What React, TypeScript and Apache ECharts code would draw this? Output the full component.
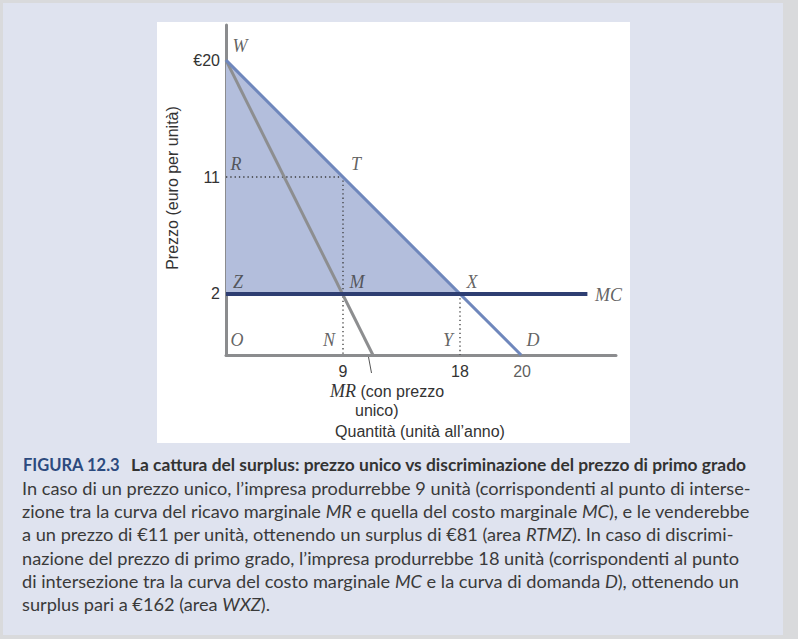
import React, { useEffect, useRef } from "react";
import * as echarts from "echarts";

// ---- data ----
const priceTicks = [20, 11, 2];
const priceTickLabels = ["€20", "11", "2"];
const quantityTicks = [9, 18];
const quantityTickLabels = ["9", "18"];
const demandInterceptLabel = "20";

const quantityMin = 0;
const quantityMax = 30;
const priceMin = -2.7;
const priceMax = 22.7;

const demand = [
  [0, 20],
  [22.7, -2.7],
];
const marginalRevenue = [
  [0, 20],
  [11.3, -2.7],
];
const marginalCost = [
  [0, 2],
  [27.8, 2],
];
const surplusArea = [
  [0, 20],
  [18, 2],
  [0, 2],
];
const singlePriceGuide = [
  [0, 11],
  [9, 11],
  [9, -2.7],
];
const discriminationGuide = [
  [18, 2],
  [18, -2.7],
];
const pointNames = ["W", "R", "T", "Z", "M", "X", "O", "N", "Y", "D", "MC"];
const pointCoords = [
  [0, 20],
  [0, 11],
  [9, 11],
  [0, 2],
  [9, 2],
  [18, 2],
  [0, -2.7],
  [9, -2.7],
  [18, -2.7],
  [22.7, -2.7],
  [27.8, 2],
];

const yAxisName = "Prezzo (euro per unità)";
const xAxisName = "Quantità (unità all’anno)";
const mrLabelLine1 = "{i|MR} (con prezzo";
const mrLabelLine2 = "unico)";

const captionNumber = "FIGURA 12.3";
const captionTitle =
  "La cattura del surplus: prezzo unico vs discriminazione del prezzo di primo grado";
const captionLines = [
  "In caso di un prezzo unico, l’impresa produrrebbe 9 unità (corrispondenti al punto di interse-",
  "zione tra la curva del ricavo marginale {i|MR} e quella del costo marginale {i|MC}), e le venderebbe",
  "a un prezzo di €11 per unità, ottenendo un surplus di €81 (area {i|RTMZ}). In caso di discrimi-",
  "nazione del prezzo di primo grado, l’impresa produrrebbe 18 unità (corrispondenti al punto",
  "di intersezione tra la curva del costo marginale {i|MC} e la curva di domanda {i|D}), ottenendo un",
  "surplus pari a €162 (area {i|WXZ}).",
];

// ---- styles ----
const labelOffsets: Record<string, number[]> = {
  W: [14, -14],
  R: [10, -13],
  T: [13, -13],
  Z: [12, -12],
  M: [14, -12],
  X: [12, -12],
  O: [11, -15],
  N: [-14, -15],
  Y: [-12, -15],
  D: [12, -15],
  MC: [21, 1],
};

const SANS = "'Liberation Sans', Arial, sans-serif";
const SERIF = "'Liberation Serif', 'Times New Roman', serif";
const CAPTION = "Lato, 'Open Sans', sans-serif";
const AXIS_COLOR = "#8b8c8e";
const TEXT_COLOR = "#333333";

export default function App() {
  const ref = useRef<HTMLDivElement>(null);

  useEffect(() => {
    if (!ref.current) return;
    const chart = echarts.init(ref.current, undefined, { renderer: "svg" });

    const captionFont = 18.2;
    const lineStep = 23.35;
    const firstBodyY = 487.5;

    const graphics: any[] = [
      {
        type: "text",
        x: 172,
        y: 188,
        rotation: Math.PI / 2,
        style: {
          text: yAxisName,
          fontFamily: SANS,
          fontSize: 16,
          fill: TEXT_COLOR,
          align: "center",
          verticalAlign: "middle",
        },
      },
      {
        type: "text",
        x: 420,
        y: 431,
        style: {
          text: xAxisName,
          fontFamily: SANS,
          fontSize: 16,
          fill: TEXT_COLOR,
          align: "center",
          verticalAlign: "middle",
        },
      },
      {
        type: "text",
        x: 330,
        y: 391,
        style: {
          text: mrLabelLine1,
          fontFamily: SANS,
          fontSize: 16,
          fill: TEXT_COLOR,
          align: "left",
          verticalAlign: "middle",
          rich: {
            i: {
              fontFamily: SERIF,
              fontStyle: "italic",
              fontSize: 18,
              fill: TEXT_COLOR,
            },
          },
        },
      },
      {
        type: "text",
        x: 355,
        y: 410,
        style: {
          text: mrLabelLine2,
          fontFamily: SANS,
          fontSize: 16,
          fill: TEXT_COLOR,
          align: "left",
          verticalAlign: "middle",
        },
      },
      {
        type: "line",
        shape: { x1: 368.5, y1: 357, x2: 371.5, y2: 373 },
        style: { stroke: "#555", lineWidth: 1 },
      },
      {
        type: "text",
        x: 23,
        y: 464.5,
        style: {
          text: captionNumber,
          fontFamily: CAPTION,
          fontSize: 16.5,
          fontWeight: "bold",
          fill: "#2c4a7e",
          align: "left",
          verticalAlign: "middle",
        },
      },
      {
        type: "text",
        x: 131,
        y: 464.5,
        style: {
          text: captionTitle,
          fontFamily: CAPTION,
          fontSize: 17.4,
          fontWeight: "bold",
          fill: "#333",
          align: "left",
          verticalAlign: "middle",
        },
      },
      ...captionLines.map((line, i) => ({
        type: "text",
        x: 22,
        y: firstBodyY + i * lineStep,
        style: {
          text: line,
          fontFamily: CAPTION,
          fontSize: captionFont,
          fill: "#3a3a3a",
          align: "left",
          verticalAlign: "middle",
          rich: {
            i: {
              fontFamily: CAPTION,
              fontSize: captionFont,
              fontStyle: "italic",
              fill: "#3a3a3a",
            },
          },
        },
      })),
    ];

    const dotted = {
      color: "#3a3a3a",
      width: 1.3,
      type: [1.3, 3] as any,
    };

    chart.setOption({
      animation: false,
      backgroundColor: "transparent",
      grid: { left: 226, right: 182, top: 25, bottom: 284, containLabel: false },
      xAxis: {
        type: "value",
        min: quantityMin,
        max: quantityMax,
        axisLine: {
          show: true,
          onZero: false,
          lineStyle: { color: AXIS_COLOR, width: 3 },
        },
        axisTick: { show: false },
        splitLine: { show: false },
        axisLabel: {
          customValues: quantityTicks,
          formatter: (v: number) => quantityTickLabels[quantityTicks.indexOf(v)] ?? "",
          fontFamily: SANS,
          fontSize: 16,
          color: TEXT_COLOR,
          margin: 8,
        },
      },
      yAxis: {
        type: "value",
        min: priceMin,
        max: priceMax,
        axisLine: {
          show: true,
          onZero: false,
          lineStyle: { color: AXIS_COLOR, width: 3 },
        },
        axisTick: { show: false },
        splitLine: { show: false },
        axisLabel: {
          customValues: priceTicks,
          formatter: (v: number) => priceTickLabels[priceTicks.indexOf(v)] ?? "",
          fontFamily: SANS,
          fontSize: 16,
          color: TEXT_COLOR,
          margin: 6,
        },
      },
      graphic: graphics,
      series: [
        {
          type: "custom",
          name: "surplus",
          z: 1,
          silent: true,
          data: [surplusArea[0]],
          renderItem: (_params: any, api: any) => ({
            type: "polygon",
            shape: { points: surplusArea.map((p) => api.coord(p)) },
            style: { fill: "#b3bedc" },
          }),
        },
        {
          type: "line",
          name: "guideSingle",
          z: 2,
          data: singlePriceGuide,
          symbol: "none",
          lineStyle: dotted,
        },
        {
          type: "line",
          name: "guideDisc",
          z: 2,
          data: discriminationGuide,
          symbol: "none",
          lineStyle: dotted,
        },
        {
          type: "line",
          name: "MR",
          z: 3,
          data: marginalRevenue,
          symbol: "none",
          lineStyle: { color: "#8d8e90", width: 3 },
        },
        {
          type: "line",
          name: "D",
          z: 3,
          data: demand,
          symbol: "none",
          lineStyle: { color: "#6f87bc", width: 3 },
        },
        {
          type: "line",
          name: "MC",
          z: 4,
          data: marginalCost,
          symbol: "none",
          lineStyle: { color: "#2e3e72", width: 4 },
        },
        {
          type: "scatter",
          name: "points",
          z: 5,
          symbolSize: 1,
          itemStyle: { color: "transparent" },
          data: pointNames.map((n, i) => ({
            name: n,
            value: pointCoords[i],
            label: {
              show: true,
              position: "inside",
              offset: labelOffsets[n],
              formatter: n,
              fontFamily: SERIF,
              fontStyle: "italic",
              fontSize: 18,
              color: "#3a3a3a",
              align: "center",
              verticalAlign: "middle",
            },
          })),
        },
        {
          type: "scatter",
          name: "demandIntercept",
          z: 5,
          symbolSize: 1,
          itemStyle: { color: "transparent" },
          data: [
            {
              value: demand[demand.length - 1],
              label: {
                show: true,
                position: "inside",
                offset: [1, 16],
                formatter: demandInterceptLabel,
                fontFamily: SANS,
                fontSize: 16,
                color: TEXT_COLOR,
                align: "center",
                verticalAlign: "middle",
              },
            },
          ],
        },
      ],
    });

    return () => chart.dispose();
  }, []);

  return (
    <div
      style={{
        position: "absolute",
        left: 0,
        top: 0,
        width: 798,
        height: 639,
        background: "#d9dadc",
        overflow: "hidden",
      }}
    >
      <div
        style={{
          position: "absolute",
          left: 3,
          top: 3,
          width: 780,
          height: 632,
          background: "#dfe3ef",
        }}
      />
      <div
        style={{
          position: "absolute",
          left: 157,
          top: 22,
          width: 473,
          height: 421,
          background: "#ffffff",
        }}
      />
      <div
        ref={ref}
        style={{ position: "absolute", left: 0, top: 0, width: 798, height: 639 }}
      />
    </div>
  );
}
